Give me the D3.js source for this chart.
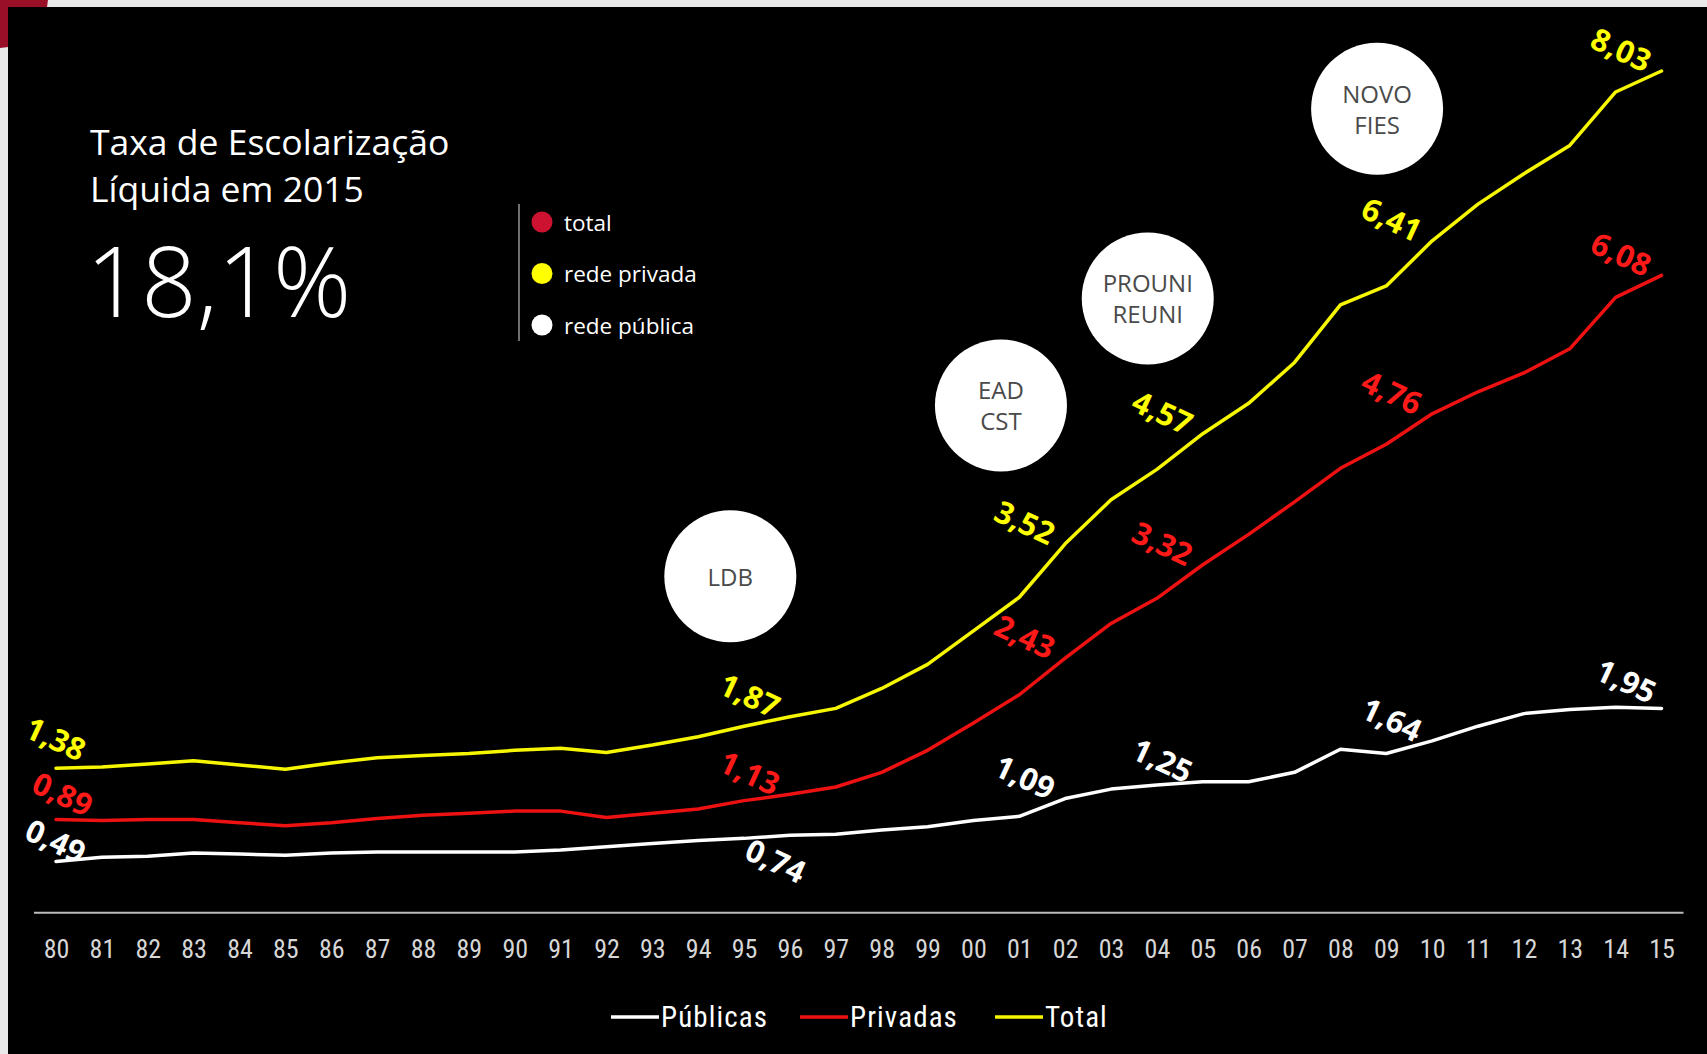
<!DOCTYPE html>
<html><head><meta charset="utf-8">
<script src="https://cdn.jsdelivr.net/npm/d3@7/dist/d3.min.js"></script>
<style>
html,body{margin:0;padding:0;background:#e9e9e9;overflow:hidden;}
svg{display:block;}
</style></head><body>
<svg id="chart" width="1707" height="1054"></svg>
<script>
// ---- data ----
const years = ["80","81","82","83","84","85","86","87","88","89","90","91","92","93","94","95","96","97","98","99",
               "00","01","02","03","04","05","06","07","08","09","10","11","12","13","14","15"];
const publicas = [0.49,0.53,0.54,0.57,0.56,0.55,0.57,0.58,0.58,0.58,0.58,0.60,0.63,0.66,0.69,0.71,0.74,0.75,0.79,0.82,
                  0.88,0.92,1.09,1.18,1.22,1.25,1.25,1.34,1.56,1.52,1.64,1.78,1.90,1.94,1.96,1.95];
const privadas = [0.89,0.88,0.89,0.89,0.86,0.83,0.86,0.90,0.93,0.95,0.97,0.97,0.91,0.95,0.99,1.07,1.13,1.20,1.34,1.55,
                  1.81,2.08,2.43,2.76,3.00,3.32,3.61,3.92,4.24,4.47,4.76,4.97,5.15,5.38,5.87,6.08];
const total    = [1.38,1.39,1.42,1.45,1.41,1.37,1.43,1.48,1.50,1.52,1.55,1.57,1.53,1.60,1.68,1.78,1.87,1.95,2.14,2.37,
                  2.69,3.01,3.52,3.94,4.23,4.57,4.86,5.25,5.80,5.98,6.41,6.76,7.05,7.32,7.83,8.03];
const labeledYears = ["80","96","02","05","10","15"];
const seriesNames = ["Públicas","Privadas","Total"];
const legendItems = ["total","rede privada","rede pública"];
const milestoneNames = [["LDB"],["EAD","CST"],["PROUNI","REUNI"],["NOVO","FIES"]];
const milestoneX = [14.7, 20.6, 23.8, 28.8];   // position along the year index
const milestoneY = [3.21, 4.84, 5.86, 7.67];   // position in value units
const titleLines = ["Taxa de Escolarização","Líquida em 2015"];
const headline = "18,1%";

// ---- styles ----
const colors = {"Públicas":"#ffffff","Privadas":"#ee1111","Total":"#f6f600"};
const labelColors = {"Públicas":"#ffffff","Privadas":"#ff1a1a","Total":"#ffff00"};
const legendDot = ["#cc1230","#ffff00","#ffffff"];
const fmt = v => v.toFixed(2).replace(".", ",");

const svg = d3.select("#chart");
// frame
svg.append("circle").attr("cx",-2).attr("cy",-2).attr("r",50).attr("fill","#9a0f28");
svg.append("rect").attr("x",8).attr("y",7).attr("width",1707-8).attr("height",1054-7).attr("fill","#000");

const x = d3.scaleLinear().domain([0, years.length-1]).range([56, 1661.5]);
const y = d3.scaleLinear().domain([0, 8]).range([912.8, 912.8 - 8*104.83]);

// baseline
svg.append("line").attr("x1", x(0)-22).attr("x2", x(years.length-1)+22)
   .attr("y1", y(0)).attr("y2", y(0)).attr("stroke","#bdbdbd").attr("stroke-width",2);

// x axis labels
const axis = d3.axisBottom(x).tickValues(d3.range(years.length)).tickFormat(i => years[i]).tickSize(0).tickPadding(27);
const ax = svg.append("g").attr("transform", `translate(0,${y(0)})`).call(axis);
ax.select(".domain").remove();
ax.selectAll("text").attr("fill","#d6d6d6")
  .style("font-family","'Liberation Sans Narrow','Roboto Condensed',Roboto,sans-serif")
  .style("font-size","26px");

// lines
const seriesData = {"Públicas":publicas,"Privadas":privadas,"Total":total};
const line = d3.line().x((d,i)=>x(i)).y(d=>y(d));
seriesNames.forEach(n => {
  svg.append("path").datum(seriesData[n]).attr("d", line)
     .attr("fill","none").attr("stroke",colors[n]).attr("stroke-width",3.5)
     .attr("stroke-linejoin","round").attr("stroke-linecap","round");
});

// data labels
const lblG = svg.append("g");
labeledYears.forEach(yr => {
  const i = years.indexOf(yr);
  seriesNames.forEach(n => {
    const v = seriesData[n][i];
    let dx = -40, dy = -22;
    if (i === 0) { dx = (n==="Privadas") ? 7 : 0; dy = (n==="Total") ? -30 : (n==="Privadas" ? -26 : -21); }
    if (yr === "96" && n === "Públicas") { dx = -14; dy = 25; }
    if (yr === "15" && n === "Públicas") { dx = -35; dy = -28; }
    const cx = x(i)+dx, cy = y(v)+dy;
    lblG.append("text").attr("x",cx).attr("y",cy)
      .attr("transform",`rotate(25,${cx},${cy})`)
      .attr("text-anchor","middle").attr("dominant-baseline","central")
      .attr("fill",labelColors[n])
      .style("font-family","'Liberation Sans Narrow','Open Sans',sans-serif")
      .style("font-weight","bold").style("font-size","31px")
      .text(fmt(v));
  });
});

// milestone circles
milestoneNames.forEach((lines,k) => {
  const cx = x(milestoneX[k]), cy = y(milestoneY[k]);
  svg.append("circle").attr("cx",cx).attr("cy",cy).attr("r",66).attr("fill","#ffffff");
  const t = svg.append("text").attr("text-anchor","middle").attr("fill","#4a4a4a")
    .style("font-family","'Open Sans',sans-serif").style("font-size","24px");
  lines.forEach((s,j) => {
    const off = (j - (lines.length-1)/2) * 31;
    t.append("tspan").attr("x",cx).attr("y",cy+off).attr("dominant-baseline","central").text(s);
  });
});

// title block
titleLines.forEach((s,j)=> svg.append("text").attr("x",90).attr("y",155+j*47).attr("fill","#fff")
  .style("font-family","'Open Sans',sans-serif").style("font-size","35.5px").text(s));
svg.append("text").attr("x",86).attr("y",317).attr("fill","#fff")
  .style("font-family","'Open Sans',sans-serif").style("font-weight","300").style("font-size","97px")
  .text(headline);

// top legend
svg.append("line").attr("x1",519).attr("x2",519).attr("y1",204).attr("y2",341).attr("stroke","#bbbbbb").attr("stroke-width",1.2);
legendItems.forEach((s,j)=>{
  const cy = 222 + j*51.5;
  svg.append("circle").attr("cx",542).attr("cy",cy).attr("r",10.5).attr("fill",legendDot[j]);
  svg.append("text").attr("x",564).attr("y",cy).attr("dominant-baseline","central").attr("fill","#fff")
    .style("font-family","'Open Sans',sans-serif").style("font-size","22.5px").text(s);
});

// bottom legend
const legX = [611, 800, 995];
seriesNames.forEach((n,j)=>{
  const lx = legX[j], ly = 1017;
  svg.append("line").attr("x1",lx).attr("x2",lx+48).attr("y1",ly).attr("y2",ly)
     .attr("stroke",colors[n]).attr("stroke-width",3.5);
  svg.append("text").attr("x",lx+50).attr("y",ly).attr("dominant-baseline","central").attr("fill","#fff")
     .style("font-family","'Liberation Sans Narrow','Roboto Condensed',Roboto,sans-serif")
     .style("font-size","29px").style("letter-spacing","1.1px").text(n);
});
</script>
</body></html>
